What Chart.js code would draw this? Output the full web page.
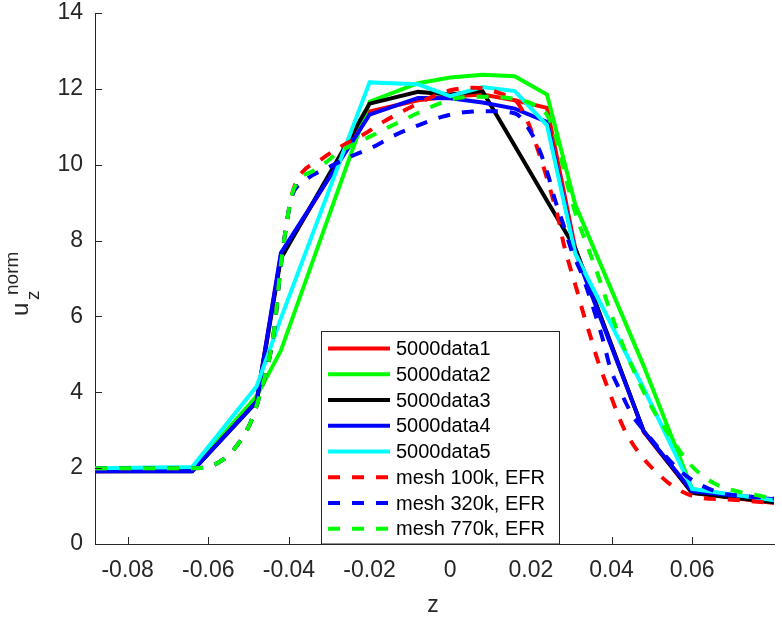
<!DOCTYPE html>
<html>
<head>
<meta charset="utf-8">
<script src="https://cdn.jsdelivr.net/npm/chart.js@4.4.0/dist/chart.umd.min.js"></script>
<style>
  body { margin: 0; background: #fff; }
  canvas { display: block; }
</style>
</head>
<body>
<canvas id="chart" width="782" height="621"></canvas>
<script>
// z positions of the 5000-sample runs (shared grid)
const zSolid = [-0.0881, -0.064, -0.048, -0.042, -0.020, -0.008, 0.000, 0.008, 0.016, 0.024, 0.031, 0.048, 0.060, 0.0803];
const data1 = [1.92, 1.93, 3.80, 7.60, 11.40, 11.70, 11.80, 11.85, 11.70, 11.50, 7.80, 2.95, 1.35, 1.08];
const data2 = [1.95, 1.95, 3.90, 5.10, 11.66, 12.15, 12.30, 12.37, 12.33, 11.85, 8.95, 4.69, 1.45, 1.12];
const data3 = [1.92, 1.92, 3.75, 7.53, 11.61, 11.92, 11.85, 11.94, 10.50, 9.05, 7.80, 2.97, 1.35, 1.10];
const data4 = [1.92, 1.92, 3.76, 7.67, 11.32, 11.76, 11.75, 11.64, 11.48, 11.13, 7.70, 2.97, 1.39, 1.18];
const data5 = [2.00, 2.03, 4.16, 5.95, 12.17, 12.12, 11.81, 12.05, 11.94, 11.04, 7.66, 4.10, 1.45, 1.15];

// mesh results (EFR)
const zMesh100 = [-0.0881, -0.064, -0.0613, -0.0563, -0.0521, -0.0492, -0.0472, -0.0455, -0.0443, -0.0434, -0.0422, -0.0405, -0.0393, -0.0372, -0.0323, -0.0273, -0.0216, -0.0166, -0.0112, -0.0054, 0.0004, 0.0062, 0.0124, 0.0165, 0.0194, 0.0219, 0.0235, 0.0252, 0.0268, 0.0281, 0.0298, 0.0314, 0.0331, 0.0347, 0.0364, 0.0397, 0.0430, 0.0471, 0.0513, 0.0558, 0.0620, 0.0678, 0.0803];
const mesh100 = [2.0, 2.0, 2.01, 2.23, 2.71, 3.28, 3.94, 4.60, 5.21, 5.87, 7.18, 8.50, 9.20, 9.73, 10.12, 10.47, 10.79, 11.13, 11.44, 11.75, 11.97, 12.03, 11.88, 11.66, 11.09, 10.34, 9.82, 9.20, 8.59, 7.93, 7.27, 6.70, 6.05, 5.50, 4.90, 3.94, 3.06, 2.36, 1.88, 1.48, 1.22, 1.18, 1.08];

const zMesh320 = [-0.0881, -0.064, -0.0613, -0.0563, -0.0521, -0.0492, -0.0472, -0.0455, -0.0443, -0.0434, -0.0422, -0.0405, -0.0393, -0.0364, -0.0298, -0.0248, -0.0191, -0.0137, -0.0079, -0.0021, 0.0041, 0.0103, 0.0161, 0.0202, 0.0223, 0.0244, 0.0260, 0.0281, 0.0302, 0.0327, 0.0347, 0.0364, 0.0380, 0.0397, 0.0422, 0.0451, 0.0480, 0.0571, 0.0612, 0.0670, 0.0736, 0.0803];
const mesh320 = [2.0, 2.0, 2.01, 2.23, 2.71, 3.28, 3.94, 4.60, 5.21, 5.87, 7.18, 8.50, 9.15, 9.55, 9.95, 10.21, 10.47, 10.78, 11.04, 11.26, 11.39, 11.41, 11.35, 10.82, 10.34, 9.68, 9.07, 8.41, 7.71, 7.10, 6.48, 5.91, 5.34, 4.64, 4.03, 3.41, 3.00, 1.92, 1.61, 1.35, 1.26, 1.20];

const zMesh770 = [-0.0881, -0.064, -0.0613, -0.0563, -0.0521, -0.0492, -0.0472, -0.0455, -0.0443, -0.0434, -0.0422, -0.0405, -0.0393, -0.0372, -0.0343, -0.0306, -0.0281, -0.0207, -0.0145, -0.0091, -0.0037, 0.0020, 0.0082, 0.0144, 0.0202, 0.0240, 0.0260, 0.0290, 0.0314, 0.0339, 0.0372, 0.0397, 0.0438, 0.0496, 0.0537, 0.0595, 0.0653, 0.0711, 0.0773, 0.0803];
const mesh770 = [2.0, 2.0, 2.01, 2.23, 2.71, 3.28, 3.94, 4.60, 5.21, 5.87, 7.18, 8.50, 9.20, 9.64, 9.82, 10.08, 10.30, 10.70, 11.03, 11.31, 11.57, 11.76, 11.79, 11.76, 11.61, 11.31, 10.80, 9.50, 8.60, 7.89, 6.92, 6.13, 4.99, 3.68, 2.97, 2.10, 1.61, 1.39, 1.26, 1.20];

const seriesLabels = ['5000data1', '5000data2', '5000data3', '5000data4', '5000data5', 'mesh 100k, EFR', 'mesh 320k, EFR', 'mesh 770k, EFR'];
const xTicks = [-0.08, -0.06, -0.04, -0.02, 0, 0.02, 0.04, 0.06];
const yTicks = [0, 2, 4, 6, 8, 10, 12, 14];

const FONT = "'Liberation Sans', Arial, Helvetica, sans-serif";
const AXIS_COLOR = '#262626';

function pts(xs, ys) {
    return xs.map((x, i) => ({ x: x, y: ys[i] }));
}

function makeSet(i, xs, ys, color, dashed) {
    return {
        label: seriesLabels[i],
        data: pts(xs, ys),
        borderColor: color,
        backgroundColor: color,
        borderWidth: 4,
        borderDash: dashed ? [12, 12] : [],
        pointRadius: 0,
        fill: false,
        tension: 0,
        cubicInterpolationMode: dashed ? 'monotone' : 'default',
        order: 8 - i
    };
}

const datasets = [
    makeSet(0, zSolid, data1, '#ff0000', false),
    makeSet(1, zSolid, data2, '#00ff00', false),
    makeSet(2, zSolid, data3, '#000000', false),
    makeSet(3, zSolid, data4, '#0000ff', false),
    makeSet(4, zSolid, data5, '#00ffff', false),
    makeSet(5, zMesh100, mesh100, '#ff0000', true),
    makeSet(6, zMesh320, mesh320, '#0000ff', true),
    makeSet(7, zMesh770, mesh770, '#00ff00', true)
];

// inward ticks, axis labels and boxed legend
const decorations = {
    id: 'decorations',
    afterDatasetsDraw(chart) {
        const ctx = chart.ctx;
        const area = chart.chartArea;
        const xs = chart.scales.x, ys = chart.scales.y;
        ctx.save();
        ctx.strokeStyle = AXIS_COLOR;
        ctx.lineWidth = 1;
        ctx.beginPath();
        xTicks.forEach(v => {
            const px = Math.round(xs.getPixelForValue(v)) + 0.5;
            ctx.moveTo(px, area.bottom);
            ctx.lineTo(px, area.bottom - 7);
        });
        yTicks.forEach(v => {
            const py = Math.round(ys.getPixelForValue(v)) + 0.5;
            ctx.moveTo(area.left, py);
            ctx.lineTo(area.left + 7, py);
        });
        ctx.stroke();

        // legend
        const lx = 321.5, ly = 331.5, lw = 238, lh = area.bottom - 331.5;
        ctx.fillStyle = '#ffffff';
        ctx.fillRect(lx, ly, lw, lh);
        ctx.strokeStyle = AXIS_COLOR;
        ctx.strokeRect(lx, ly, lw, lh);
        ctx.font = '20px ' + FONT;
        ctx.textBaseline = 'middle';
        ctx.textAlign = 'left';
        chart.data.datasets.forEach((ds, i) => {
            const y = 348.5 + i * 25.75;
            ctx.beginPath();
            ctx.strokeStyle = ds.borderColor;
            ctx.lineWidth = 4;
            ctx.setLineDash(ds.borderDash);
            ctx.moveTo(328, y);
            ctx.lineTo(390, y);
            ctx.stroke();
            ctx.setLineDash([]);
            ctx.fillStyle = '#000000';
            ctx.fillText(ds.label, 396, y + 1);
        });

        // x label
        ctx.fillStyle = AXIS_COLOR;
        ctx.textAlign = 'center';
        ctx.textBaseline = 'alphabetic';
        ctx.font = '23px ' + FONT;
        ctx.fillText('z', 433, 612);

        // y label u_z^norm, rotated
        ctx.translate(28, 316);
        ctx.rotate(-Math.PI / 2);
        ctx.textAlign = 'left';
        ctx.font = '24px ' + FONT;
        ctx.fillText('u', 0, 0);
        ctx.font = '19px ' + FONT;
        ctx.fillText('z', 16, 11);
        ctx.fillText('norm', 21, -10);
        ctx.restore();
    }
};

const chart = new Chart(document.getElementById('chart').getContext('2d'), {
    type: 'line',
    data: { datasets: datasets },
    options: {
        responsive: false,
        animation: false,
        layout: { padding: { top: 13, right: 8, left: 0, bottom: 0 } },
        plugins: {
            legend: { display: false },
            tooltip: { enabled: false }
        },
        scales: {
            x: {
                type: 'linear',
                min: -0.0881,
                max: 0.0803,
                grid: { display: false, drawTicks: false },
                border: { display: true, color: AXIS_COLOR, width: 1 },
                afterBuildTicks: s => { s.ticks = xTicks.map(v => ({ value: v })); },
                afterFit: s => { s.height = 77; s.paddingLeft = 0; s.paddingRight = 0; },
                ticks: {
                    padding: 13,
                    color: AXIS_COLOR,
                    font: { family: FONT, size: 23 },
                    maxRotation: 0,
                    callback: v => (v === 0 ? '0' : v.toFixed(2))
                }
            },
            y: {
                type: 'linear',
                min: 0,
                max: 14,
                grid: { display: false, drawTicks: false },
                border: { display: true, color: AXIS_COLOR, width: 1 },
                afterBuildTicks: s => { s.ticks = yTicks.map(v => ({ value: v })); },
                afterFit: s => { s.width = 95; s.paddingTop = 0; s.paddingBottom = 0; },
                ticks: {
                    padding: 12,
                    color: AXIS_COLOR,
                    font: { family: FONT, size: 23 }
                }
            }
        }
    },
    plugins: [decorations]
});
</script>
</body>
</html>
